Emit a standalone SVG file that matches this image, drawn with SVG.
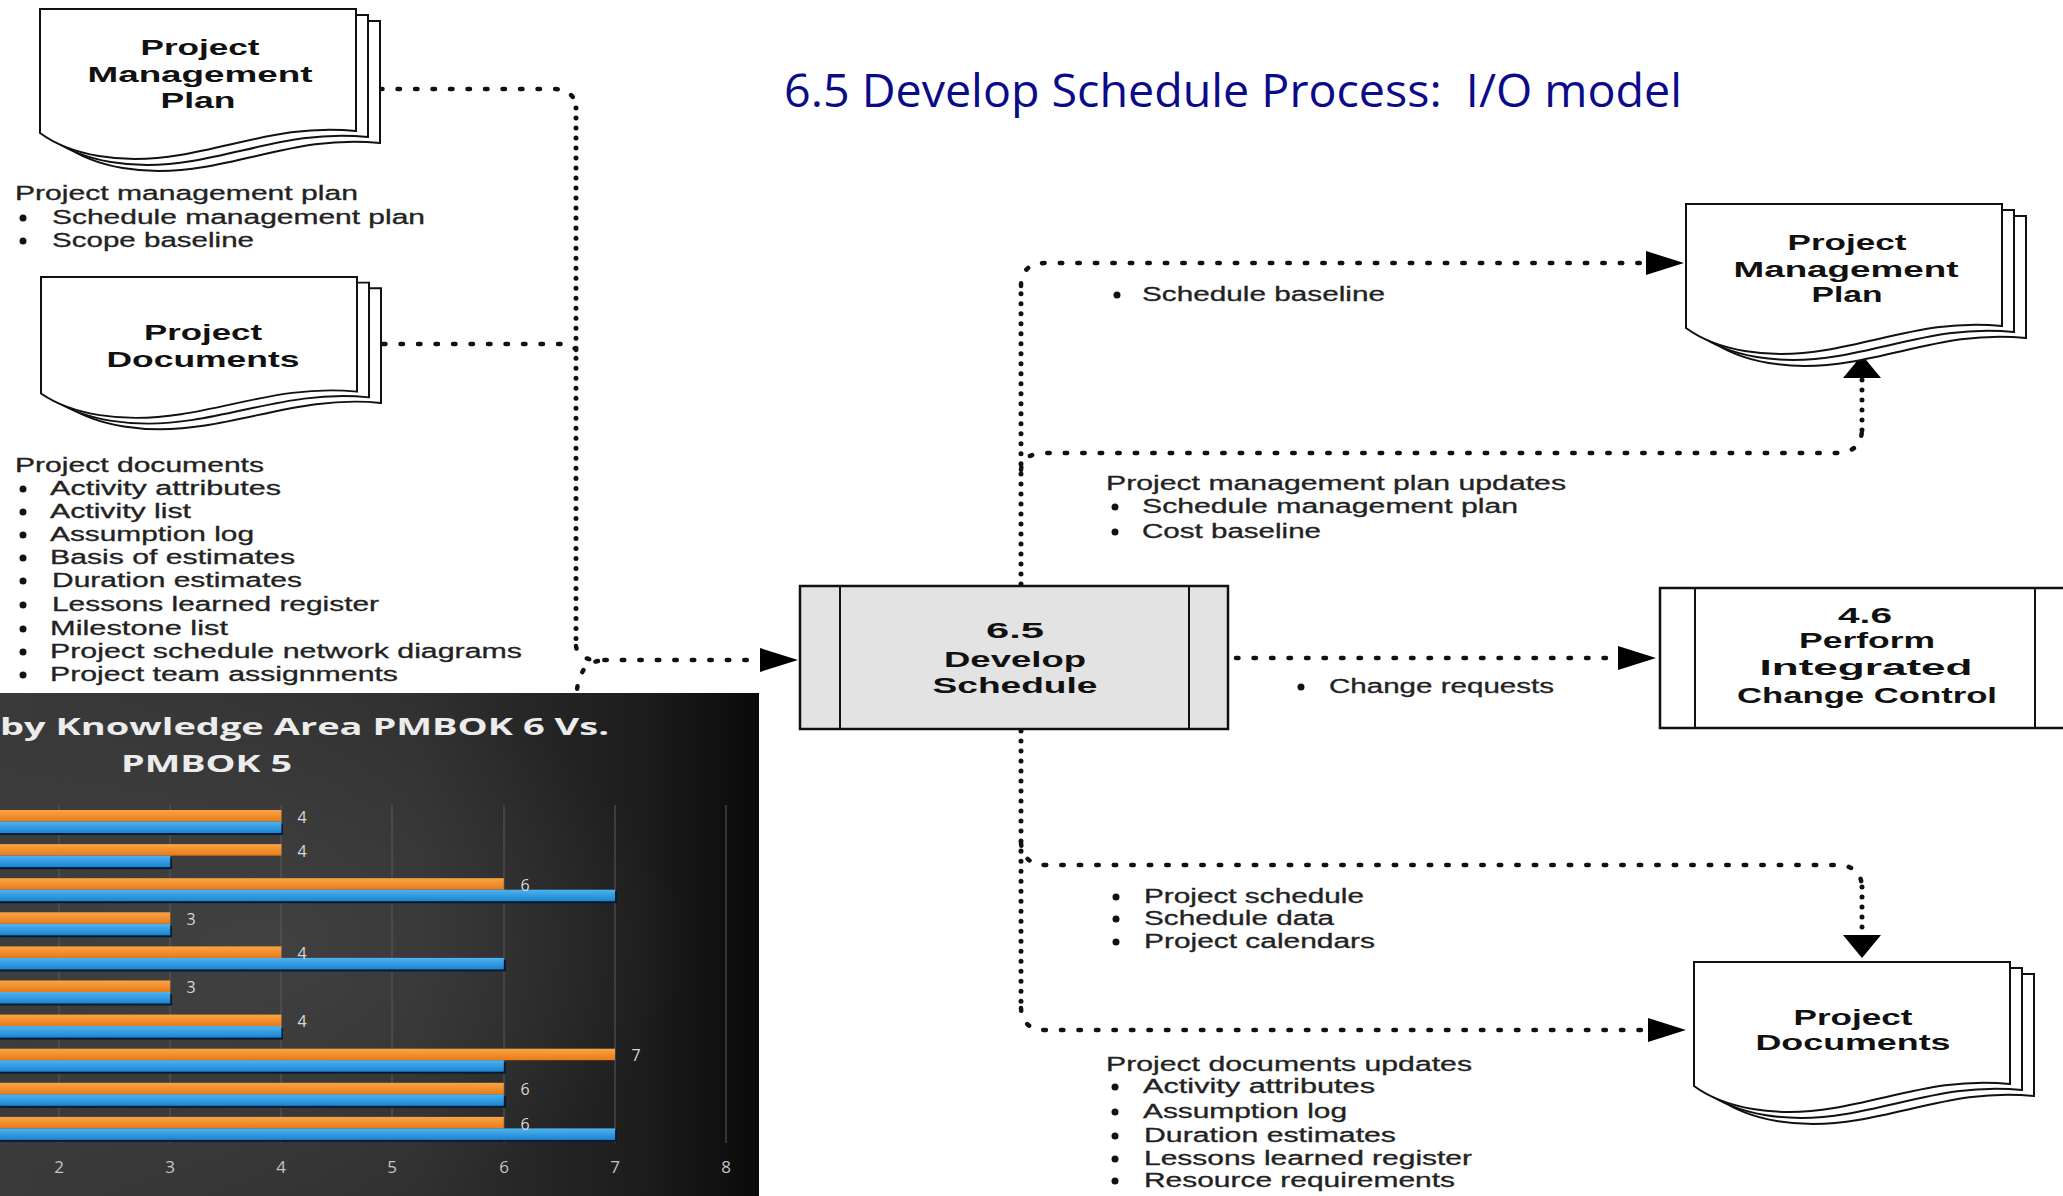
<svg xmlns="http://www.w3.org/2000/svg" xmlns:xlink="http://www.w3.org/1999/xlink" width="2063" height="1196" viewBox="0 0 2063 1196">
<style>
.bg{fill:#ffffff}
.title{font-family:"Open Sans","Liberation Sans",sans-serif;font-size:45px;fill:#0b0b8a}
.lbl{font-family:"Liberation Sans",Arial,sans-serif;font-weight:bold;font-size:22px;fill:#111;text-anchor:middle}
.txt{font-family:"Liberation Sans",Arial,sans-serif;font-size:20px;fill:#222;stroke:#222;stroke-width:0.3}
.dot{fill:#111}
.page{fill:#fff;stroke:#111;stroke-width:2}
.proc{fill:#e3e3e3;stroke:#111;stroke-width:2.5}
.proc2{fill:#fff;stroke:#111;stroke-width:2.5}
.sep{stroke:#111;stroke-width:2}
.dh{fill:none;stroke:#111;stroke-width:4.5;stroke-linecap:round;stroke-dasharray:2.5 15}
.dv{fill:none;stroke:#111;stroke-width:5;stroke-linecap:round;stroke-dasharray:0.01 10}
.grid{stroke:#5a5a5a;stroke-width:1}
.o{fill:url(#og)}
.b{fill:url(#bg2)}
.sh{fill:#061a36}
.val{font-family:"Open Sans","Liberation Sans",sans-serif;font-size:16px;fill:#d8d8d8;text-anchor:middle}
.ax{font-family:"Open Sans","Liberation Sans",sans-serif;font-size:17px;fill:#c4c4c4;text-anchor:middle}
.ct{font-family:"Open Sans","Liberation Sans",sans-serif;font-weight:bold;font-size:24px;fill:#ececec}
</style>
<defs>
<marker id="ah" viewBox="0 0 38 24" markerWidth="38" markerHeight="24" refX="0" refY="12" orient="auto" markerUnits="userSpaceOnUse"><path d="M0 0 L38 12 L0 24 Z" fill="#000"/></marker>
<marker id="av" viewBox="0 0 23 38" markerWidth="23" markerHeight="38" refX="0" refY="19" orient="auto" markerUnits="userSpaceOnUse"><path d="M0 0 L23 19 L0 38 Z" fill="#000"/></marker>
<path id="pg" d="M0 0 H316 V122 C250 115 200 136 140 146 C80 156 30 146 0 124 Z"/>
<g id="doc">
<use xlink:href="#pg" href="#pg" x="24" y="12" class="page"/>
<use xlink:href="#pg" href="#pg" x="12" y="6" class="page"/>
<use xlink:href="#pg" href="#pg" class="page"/>
</g>
<linearGradient id="cbg" x1="0" y1="0" x2="1" y2="0">
<stop offset="0" stop-color="#3a3a3a"/>
<stop offset="0.55" stop-color="#303030"/>
<stop offset="0.85" stop-color="#1c1c1c"/>
<stop offset="1" stop-color="#0a0a0a"/>
</linearGradient>
<radialGradient id="glow" cx="0.35" cy="0.5" r="0.55">
<stop offset="0" stop-color="#4a4a4a" stop-opacity="0.6"/>
<stop offset="1" stop-color="#4a4a4a" stop-opacity="0"/>
</radialGradient>
<linearGradient id="og" x1="0" y1="0" x2="0" y2="1">
<stop offset="0" stop-color="#fba445"/>
<stop offset="1" stop-color="#e87a18"/>
</linearGradient>
<linearGradient id="bg2" x1="0" y1="0" x2="0" y2="1">
<stop offset="0" stop-color="#4fb3f0"/>
<stop offset="1" stop-color="#1c84cf"/>
</linearGradient>
</defs>
<rect class="bg" x="0" y="0" width="2063" height="1196"/>

<text id="title" class="title" x="784" y="107" textLength="898" lengthAdjust="spacingAndGlyphs" xml:space="preserve">6.5 Develop Schedule Process:  I/O model</text>

<g id="connectors">
<path class="dh" d="M380 89 H553 Q572 89 576 104"/>
<path class="dv" d="M576 108 V646"/>
<path class="dh" d="M383 344 H560 Q572 344 576 350"/>
<path class="dh" d="M598 661 Q580 664 577 690"/>
<path class="dh" d="M576 646 Q578 660 598 660 H760" marker-end="url(#ah)"/>
<path class="dv" d="M1021 584 V286"/>
<path class="dh" d="M1021 286 Q1021 263 1046 263 H1646" marker-end="url(#ah)"/>
<path class="dh" d="M1021 470 Q1022 453 1046 453 H1836 Q1861 453 1862 430"/>
<path class="dv" d="M1862 430 V378" marker-end="url(#av)"/>
<path class="dh" d="M1236 658 H1618" marker-end="url(#ah)"/>
<path class="dv" d="M1021 731 V1008"/>
<path class="dh" d="M1021 1008 Q1022 1030 1046 1030 H1648" marker-end="url(#ah)"/>
<path class="dh" d="M1021 843 Q1023 865 1046 865 H1836 Q1861 865 1862 887"/>
<path class="dv" d="M1862 887 V935" marker-end="url(#av)"/>
</g>

<g id="in-pmp">
<use xlink:href="#doc" href="#doc" x="40" y="9"/>
<text class="lbl" x="200" y="55" textLength="119" lengthAdjust="spacingAndGlyphs">Project</text>
<text class="lbl" x="200" y="82" textLength="225" lengthAdjust="spacingAndGlyphs">Management</text>
<text class="lbl" x="198" y="108" textLength="75" lengthAdjust="spacingAndGlyphs">Plan</text>
</g>

<g id="in-pmp-list">
<text class="txt" x="15" y="200" textLength="343" lengthAdjust="spacingAndGlyphs">Project management plan</text>
<circle class="dot" cx="23" cy="218" r="3.5"/>
<text class="txt" x="52" y="224" textLength="373" lengthAdjust="spacingAndGlyphs">Schedule management plan</text>
<circle class="dot" cx="23" cy="241" r="3.5"/>
<text class="txt" x="52" y="247" textLength="202" lengthAdjust="spacingAndGlyphs">Scope baseline</text>
</g>

<g id="in-pd">
<use xlink:href="#doc" href="#doc" transform="translate(41,277) scale(1,0.94)"/>
<text class="lbl" x="203" y="340" textLength="118" lengthAdjust="spacingAndGlyphs">Project</text>
<text class="lbl" x="203" y="367" textLength="193" lengthAdjust="spacingAndGlyphs">Documents</text>
</g>

<g id="in-pd-list">
<text class="txt" x="15" y="472" textLength="249" lengthAdjust="spacingAndGlyphs">Project documents</text>
<circle class="dot" cx="23" cy="489" r="3.5"/>
<text class="txt" x="50" y="495" textLength="231" lengthAdjust="spacingAndGlyphs">Activity attributes</text>
<circle class="dot" cx="23" cy="512" r="3.5"/>
<text class="txt" x="50" y="518" textLength="141" lengthAdjust="spacingAndGlyphs">Activity list</text>
<circle class="dot" cx="23" cy="535" r="3.5"/>
<text class="txt" x="50" y="541" textLength="204" lengthAdjust="spacingAndGlyphs">Assumption log</text>
<circle class="dot" cx="23" cy="558" r="3.5"/>
<text class="txt" x="50" y="564" textLength="245" lengthAdjust="spacingAndGlyphs">Basis of estimates</text>
<circle class="dot" cx="23" cy="581" r="3.5"/>
<text class="txt" x="52" y="587" textLength="250" lengthAdjust="spacingAndGlyphs">Duration estimates</text>
<circle class="dot" cx="23" cy="605" r="3.5"/>
<text class="txt" x="52" y="611" textLength="327" lengthAdjust="spacingAndGlyphs">Lessons learned register</text>
<circle class="dot" cx="23" cy="629" r="3.5"/>
<text class="txt" x="50" y="635" textLength="178" lengthAdjust="spacingAndGlyphs">Milestone list</text>
<circle class="dot" cx="23" cy="652" r="3.5"/>
<text class="txt" x="50" y="658" textLength="472" lengthAdjust="spacingAndGlyphs">Project schedule network diagrams</text>
<circle class="dot" cx="23" cy="675" r="3.5"/>
<text class="txt" x="50" y="681" textLength="348" lengthAdjust="spacingAndGlyphs">Project team assignments</text>
</g>

<g id="chart">
<rect x="0" y="693" width="759" height="503" fill="url(#cbg)"/>
<rect x="0" y="693" width="759" height="503" fill="url(#glow)"/>
<g>
<line class="grid" x1="59" y1="805" x2="59" y2="1143"/>
<line class="grid" x1="170" y1="805" x2="170" y2="1143"/>
<line class="grid" x1="281" y1="805" x2="281" y2="1143"/>
<line class="grid" x1="392" y1="805" x2="392" y2="1143"/>
<line class="grid" x1="504" y1="805" x2="504" y2="1143"/>
<line class="grid" x1="615" y1="805" x2="615" y2="1143"/>
<line class="grid" x1="726" y1="805" x2="726" y2="1143"/>
</g>
<text class="ct" x="0" y="735" textLength="609" lengthAdjust="spacingAndGlyphs">by Knowledge Area PMBOK 6 Vs.</text>
<text class="ct" x="121" y="772" textLength="171" lengthAdjust="spacingAndGlyphs">PMBOK 5</text>
<g>
<rect class="sh" x="0" y="823.5" width="283" height="11.5"/>
<rect class="o" x="0" y="810" width="281.4" height="11.5"/>
<rect class="b" x="0" y="821.5" width="281.4" height="11.5"/>
<rect class="sh" x="0" y="857.6" width="172" height="11.5"/>
<rect class="o" x="0" y="844.1" width="281.4" height="11.5"/>
<rect class="b" x="0" y="855.6" width="170.2" height="11.5"/>
<rect class="sh" x="0" y="891.7" width="617" height="11.5"/>
<rect class="o" x="0" y="878.2" width="503.8" height="11.5"/>
<rect class="b" x="0" y="889.7" width="615" height="11.5"/>
<rect class="sh" x="0" y="925.8" width="172" height="11.5"/>
<rect class="o" x="0" y="912.3" width="170.2" height="11.5"/>
<rect class="b" x="0" y="923.8" width="170.2" height="11.5"/>
<rect class="sh" x="0" y="959.9" width="506" height="11.5"/>
<rect class="o" x="0" y="946.4" width="281.4" height="11.5"/>
<rect class="b" x="0" y="957.9" width="503.8" height="11.5"/>
<rect class="sh" x="0" y="994" width="172" height="11.5"/>
<rect class="o" x="0" y="980.5" width="170.2" height="11.5"/>
<rect class="b" x="0" y="992" width="170.2" height="11.5"/>
<rect class="sh" x="0" y="1028.1" width="283" height="11.5"/>
<rect class="o" x="0" y="1014.6" width="281.4" height="11.5"/>
<rect class="b" x="0" y="1026.1" width="281.4" height="11.5"/>
<rect class="sh" x="0" y="1062.2" width="506" height="11.5"/>
<rect class="o" x="0" y="1048.7" width="615" height="11.5"/>
<rect class="b" x="0" y="1060.2" width="503.8" height="11.5"/>
<rect class="sh" x="0" y="1096.3" width="506" height="11.5"/>
<rect class="o" x="0" y="1082.8" width="503.8" height="11.5"/>
<rect class="b" x="0" y="1094.3" width="503.8" height="11.5"/>
<rect class="sh" x="0" y="1130.4" width="617" height="11.5"/>
<rect class="o" x="0" y="1116.9" width="503.8" height="11.5"/>
<rect class="b" x="0" y="1128.4" width="615" height="11.5"/>
</g>
<g>
<text class="val" x="302" y="823">4</text>
<text class="val" x="302" y="857">4</text>
<text class="val" x="525" y="891">6</text>
<text class="val" x="191" y="925">3</text>
<text class="val" x="302" y="959">4</text>
<text class="val" x="191" y="993">3</text>
<text class="val" x="302" y="1027">4</text>
<text class="val" x="636" y="1061">7</text>
<text class="val" x="525" y="1095">6</text>
<text class="val" x="525" y="1130">6</text>
</g>
<g>
<text class="ax" x="59" y="1173">2</text>
<text class="ax" x="170" y="1173">3</text>
<text class="ax" x="281" y="1173">4</text>
<text class="ax" x="392" y="1173">5</text>
<text class="ax" x="504" y="1173">6</text>
<text class="ax" x="615" y="1173">7</text>
<text class="ax" x="726" y="1173">8</text>
</g>
</g>

<g id="proc-65">
<rect class="proc" x="800" y="586" width="428" height="143"/>
<line class="sep" x1="840" y1="586" x2="840" y2="729"/>
<line class="sep" x1="1189" y1="586" x2="1189" y2="729"/>
<text class="lbl" x="1015" y="638" textLength="58" lengthAdjust="spacingAndGlyphs">6.5</text>
<text class="lbl" x="1015" y="667" textLength="142" lengthAdjust="spacingAndGlyphs">Develop</text>
<text class="lbl" x="1015" y="693" textLength="165" lengthAdjust="spacingAndGlyphs">Schedule</text>
</g>

<g id="out-list-top">
<circle class="dot" cx="1117" cy="295" r="3.5"/>
<text class="txt" x="1142" y="301" textLength="243" lengthAdjust="spacingAndGlyphs">Schedule baseline</text>
<text class="txt" x="1106" y="490" textLength="460" lengthAdjust="spacingAndGlyphs">Project management plan updates</text>
<circle class="dot" cx="1115" cy="507" r="3.5"/>
<text class="txt" x="1142" y="513" textLength="376" lengthAdjust="spacingAndGlyphs">Schedule management plan</text>
<circle class="dot" cx="1115" cy="532" r="3.5"/>
<text class="txt" x="1142" y="538" textLength="179" lengthAdjust="spacingAndGlyphs">Cost baseline</text>
<circle class="dot" cx="1301" cy="687" r="3.5"/>
<text class="txt" x="1329" y="693" textLength="225" lengthAdjust="spacingAndGlyphs">Change requests</text>
</g>

<g id="out-pmp">
<use xlink:href="#doc" href="#doc" x="1686" y="204"/>
<text class="lbl" x="1847" y="250" textLength="119" lengthAdjust="spacingAndGlyphs">Project</text>
<text class="lbl" x="1846" y="277" textLength="225" lengthAdjust="spacingAndGlyphs">Management</text>
<text class="lbl" x="1847" y="302" textLength="71" lengthAdjust="spacingAndGlyphs">Plan</text>
</g>

<g id="proc-46">
<rect class="proc2" x="1660" y="588" width="420" height="140"/>
<line class="sep" x1="1695" y1="588" x2="1695" y2="728"/>
<line class="sep" x1="2035" y1="588" x2="2035" y2="728"/>
<text class="lbl" x="1865" y="623" textLength="54" lengthAdjust="spacingAndGlyphs">4.6</text>
<text class="lbl" x="1867" y="648" textLength="136" lengthAdjust="spacingAndGlyphs">Perform</text>
<text class="lbl" x="1866" y="675" textLength="213" lengthAdjust="spacingAndGlyphs">Integrated</text>
<text class="lbl" x="1867" y="703" textLength="260" lengthAdjust="spacingAndGlyphs">Change Control</text>
</g>

<g id="out-list-bottom">
<circle class="dot" cx="1116" cy="897" r="3.5"/>
<text class="txt" x="1144" y="903" textLength="220" lengthAdjust="spacingAndGlyphs">Project schedule</text>
<circle class="dot" cx="1116" cy="919" r="3.5"/>
<text class="txt" x="1144" y="925" textLength="190" lengthAdjust="spacingAndGlyphs">Schedule data</text>
<circle class="dot" cx="1116" cy="942" r="3.5"/>
<text class="txt" x="1144" y="948" textLength="231" lengthAdjust="spacingAndGlyphs">Project calendars</text>
<text class="txt" x="1106" y="1071" textLength="366" lengthAdjust="spacingAndGlyphs">Project documents updates</text>
<circle class="dot" cx="1115" cy="1087" r="3.5"/>
<text class="txt" x="1143" y="1093" textLength="232" lengthAdjust="spacingAndGlyphs">Activity attributes</text>
<circle class="dot" cx="1115" cy="1112" r="3.5"/>
<text class="txt" x="1143" y="1118" textLength="204" lengthAdjust="spacingAndGlyphs">Assumption log</text>
<circle class="dot" cx="1115" cy="1136" r="3.5"/>
<text class="txt" x="1144" y="1142" textLength="252" lengthAdjust="spacingAndGlyphs">Duration estimates</text>
<circle class="dot" cx="1115" cy="1159" r="3.5"/>
<text class="txt" x="1144" y="1165" textLength="328" lengthAdjust="spacingAndGlyphs">Lessons learned register</text>
<circle class="dot" cx="1115" cy="1181" r="3.5"/>
<text class="txt" x="1144" y="1187" textLength="311" lengthAdjust="spacingAndGlyphs">Resource requirements</text>
</g>

<g id="out-pd">
<use xlink:href="#doc" href="#doc" x="1694" y="962"/>
<text class="lbl" x="1853" y="1025" textLength="119" lengthAdjust="spacingAndGlyphs">Project</text>
<text class="lbl" x="1853" y="1050" textLength="195" lengthAdjust="spacingAndGlyphs">Documents</text>
</g>
</svg>
